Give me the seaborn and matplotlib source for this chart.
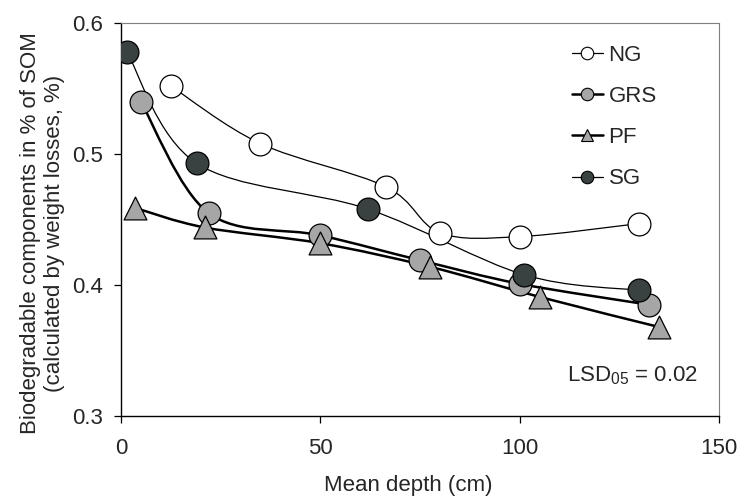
import numpy as np
import pandas as pd
import seaborn as sns
import matplotlib.pyplot as plt
from matplotlib.path import Path
from matplotlib.patches import PathPatch
from matplotlib.lines import Line2D

# values
ng_depth = [12.5, 35, 66.5, 80, 100, 130]
ng_val = [0.552, 0.508, 0.475, 0.440, 0.437, 0.447]
grs_depth = [5, 22, 50, 75, 100, 132.5]
grs_val = [0.540, 0.455, 0.438, 0.419, 0.401, 0.385]
pf_depth = [3.5, 21, 50, 77.5, 105, 135]
pf_val = [0.459, 0.444, 0.432, 0.414, 0.391, 0.368]
sg_depth = [1.5, 19, 62, 101, 130]
sg_val = [0.578, 0.493, 0.458, 0.408, 0.396]

series = ["NG", "GRS", "PF", "SG"]
fills = {"NG": "white", "GRS": "#a6a6a6", "PF": "#a6a6a6", "SG": "#3a4141"}
markers = {"NG": "o", "GRS": "o", "PF": "^", "SG": "o"}
widths = {"NG": 0.9, "GRS": 1.8, "PF": 1.8, "SG": 0.9}

df = pd.concat([
    pd.DataFrame({"depth": ng_depth, "value": ng_val, "soil": "NG"}),
    pd.DataFrame({"depth": grs_depth, "value": grs_val, "soil": "GRS"}),
    pd.DataFrame({"depth": pf_depth, "value": pf_val, "soil": "PF"}),
    pd.DataFrame({"depth": sg_depth, "value": sg_val, "soil": "SG"}),
], ignore_index=True)

sns.set_style("ticks")
plt.rcParams["font.family"] = ["Liberation Sans", "DejaVu Sans"]
plt.rcParams["mathtext.fontset"] = "custom"
plt.rcParams["mathtext.rm"] = "Liberation Sans"

fig = plt.figure(figsize=(7.37, 4.96), dpi=100)
ax = fig.add_axes([0.164, 0.161, 0.8116, 0.7925])


def smooth_path(xs, ys):
    # excel-style smoothed line (catmull-rom bezier through the points)
    p = np.column_stack([xs, ys])
    verts = [p[0]]
    codes = [Path.MOVETO]
    n = len(p)
    for i in range(n - 1):
        p0 = p[i - 1] if i > 0 else p[i]
        p3 = p[i + 2] if i + 2 < n else p[i + 1]
        c1 = p[i] + (p[i + 1] - p0) / 6
        c2 = p[i + 1] - (p3 - p[i]) / 6
        verts += [c1, c2, p[i + 1]]
        codes += [Path.CURVE4] * 3
    return Path(verts, codes)


for s in series:
    d = df[df.soil == s]
    ax.add_patch(PathPatch(smooth_path(d.depth.values, d.value.values),
                           fill=False, lw=widths[s], ec="black", zorder=2))

for s in series:
    d = df[df.soil == s]
    sns.scatterplot(data=d, x="depth", y="value", ax=ax, marker=markers[s],
                    s=270, color=fills[s], edgecolor="black", linewidth=0.9,
                    zorder=3, legend=False)

ax.set_xlim(0, 150)
ax.set_ylim(0.3, 0.6)
ax.set_xticks([0, 50, 100, 150])
ax.set_yticks([0.3, 0.4, 0.5, 0.6])
ax.set_yticklabels(["0.3", "0.4", "0.5", "0.6"])
ax.tick_params(labelsize=16, length=5, width=0.9, color="black")
ax.tick_params(axis="x", pad=11)
ax.tick_params(axis="y", pad=8)
ax.set_xlabel("Mean depth (cm)", fontsize=16, labelpad=11)
ax.set_ylabel("Biodegradable components in % of SOM\n(calculated by weight losses, %)",
              fontsize=16, labelpad=5)
for side in ["top", "right"]:
    ax.spines[side].set_visible(True)
    ax.spines[side].set_color("#7f7f7f")
for side in ["left", "bottom"]:
    ax.spines[side].set_color("black")
    ax.spines[side].set_linewidth(1.0)

fig.canvas.draw()
# nudge axis labels to where the reference has them
ax.xaxis.label.set_x(0.48)
ax.yaxis.label.set_y(0.465)

handles = [Line2D([0], [0], color="black", lw=widths[s], marker=markers[s],
                  markersize=9, markerfacecolor=fills[s], markeredgecolor="black",
                  markeredgewidth=0.8) for s in series]
ax.legend(handles, series, loc="upper left", bbox_to_anchor=(0.754, 0.945),
          borderaxespad=0, borderpad=0, frameon=False, fontsize=16,
          handlelength=1.4, handletextpad=0.25, labelspacing=0.91)

ax.text(0.965, 0.075, r"LSD$_{05}$ = 0.02", transform=ax.transAxes,
        ha="right", va="bottom", fontsize=16)

fig.savefig("out.png", dpi=100)
